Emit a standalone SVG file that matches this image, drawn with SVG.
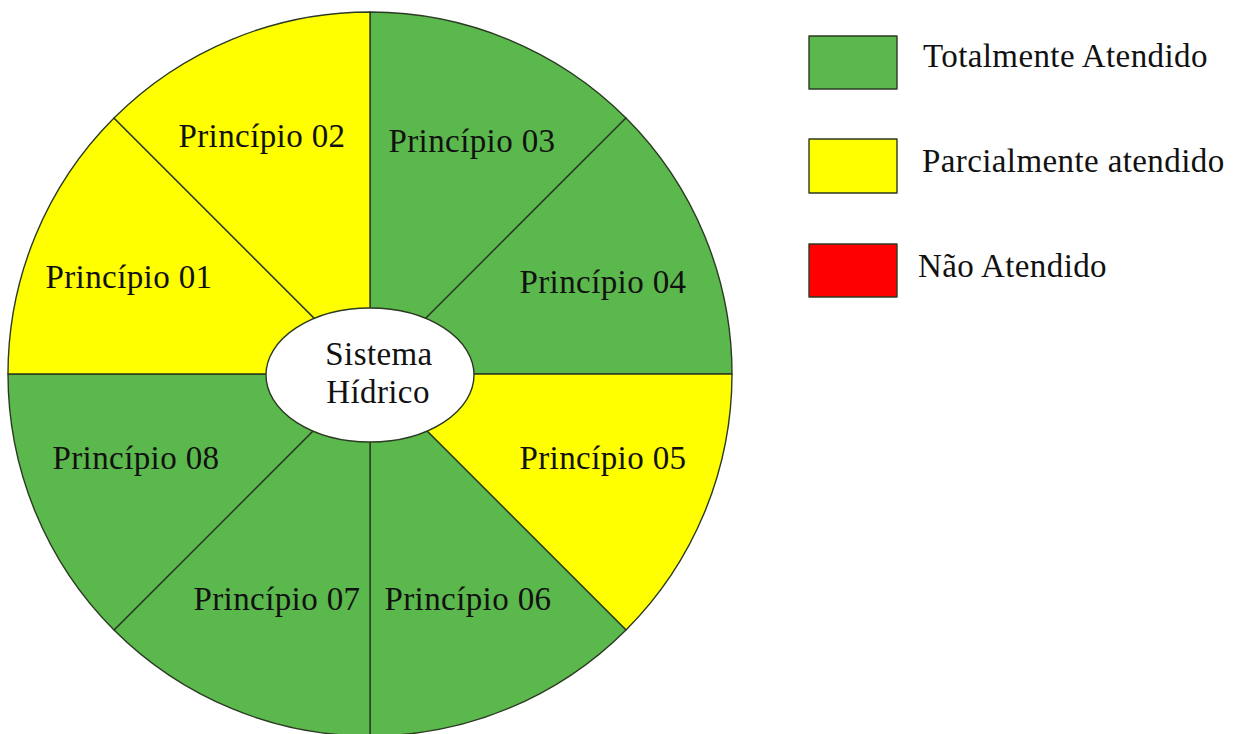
<svg xmlns="http://www.w3.org/2000/svg" width="1238" height="734" viewBox="0 0 1238 734">
<style>
.g{fill:#5BB84C}
.y{fill:#FFFF00}
.r{fill:#FF0000}
.s{stroke:#2b3a22;stroke-width:1.4;stroke-linejoin:round}
.t{font-family:"Liberation Serif","Times New Roman",serif;font-size:33px;letter-spacing:0.4px;fill:#111}
.m{text-anchor:middle}
</style>
<rect width="1238" height="734" fill="#fff"/>
<g id="slices">
<g id="p03"><path class="g s" d="M370 374 L370 12 A362 362 0 0 1 626 118 Z"/><text class="t m" x="472" y="152">Princípio 03</text></g>
<g id="p04"><path class="g s" d="M370 374 L626 118 A362 362 0 0 1 732 374 Z"/><text class="t m" x="603" y="293">Princípio 04</text></g>
<g id="p05"><path class="y s" d="M370 374 L732 374 A362 362 0 0 1 626 630 Z"/><text class="t m" x="603" y="469">Princípio 05</text></g>
<g id="p06"><path class="g s" d="M370 374 L626 630 A362 362 0 0 1 370 736 Z"/><text class="t m" x="468" y="610">Princípio 06</text></g>
<g id="p07"><path class="g s" d="M370 374 L370 736 A362 362 0 0 1 114 630 Z"/><text class="t m" x="277" y="610">Princípio 07</text></g>
<g id="p08"><path class="g s" d="M370 374 L114 630 A362 362 0 0 1 8 374 Z"/><text class="t m" x="136" y="469">Princípio 08</text></g>
<g id="p01"><path class="y s" d="M370 374 L8 374 A362 362 0 0 1 114 118 Z"/><text class="t m" x="129" y="288">Princípio 01</text></g>
<g id="p02"><path class="y s" d="M370 374 L114 118 A362 362 0 0 1 370 12 Z"/><text class="t m" x="262" y="147">Princípio 02</text></g>
</g>
<g id="center">
<ellipse cx="370" cy="375" rx="104" ry="67" fill="#fff" class="s"/>
<text class="t m" x="379" y="365">Sistema</text>
<text class="t m" x="378" y="403">Hídrico</text>
</g>
<g id="legend">
<g id="leg-green"><rect class="g s" x="809" y="36" width="88" height="53"/><text class="t" x="923" y="67">Totalmente Atendido</text></g>
<g id="leg-yellow"><rect class="y s" x="809" y="139" width="88" height="54"/><text class="t" x="922" y="172">Parcialmente atendido</text></g>
<g id="leg-red"><rect class="r s" x="809" y="244" width="88" height="53"/><text class="t" x="918" y="277">Não Atendido</text></g>
</g>
</svg>
